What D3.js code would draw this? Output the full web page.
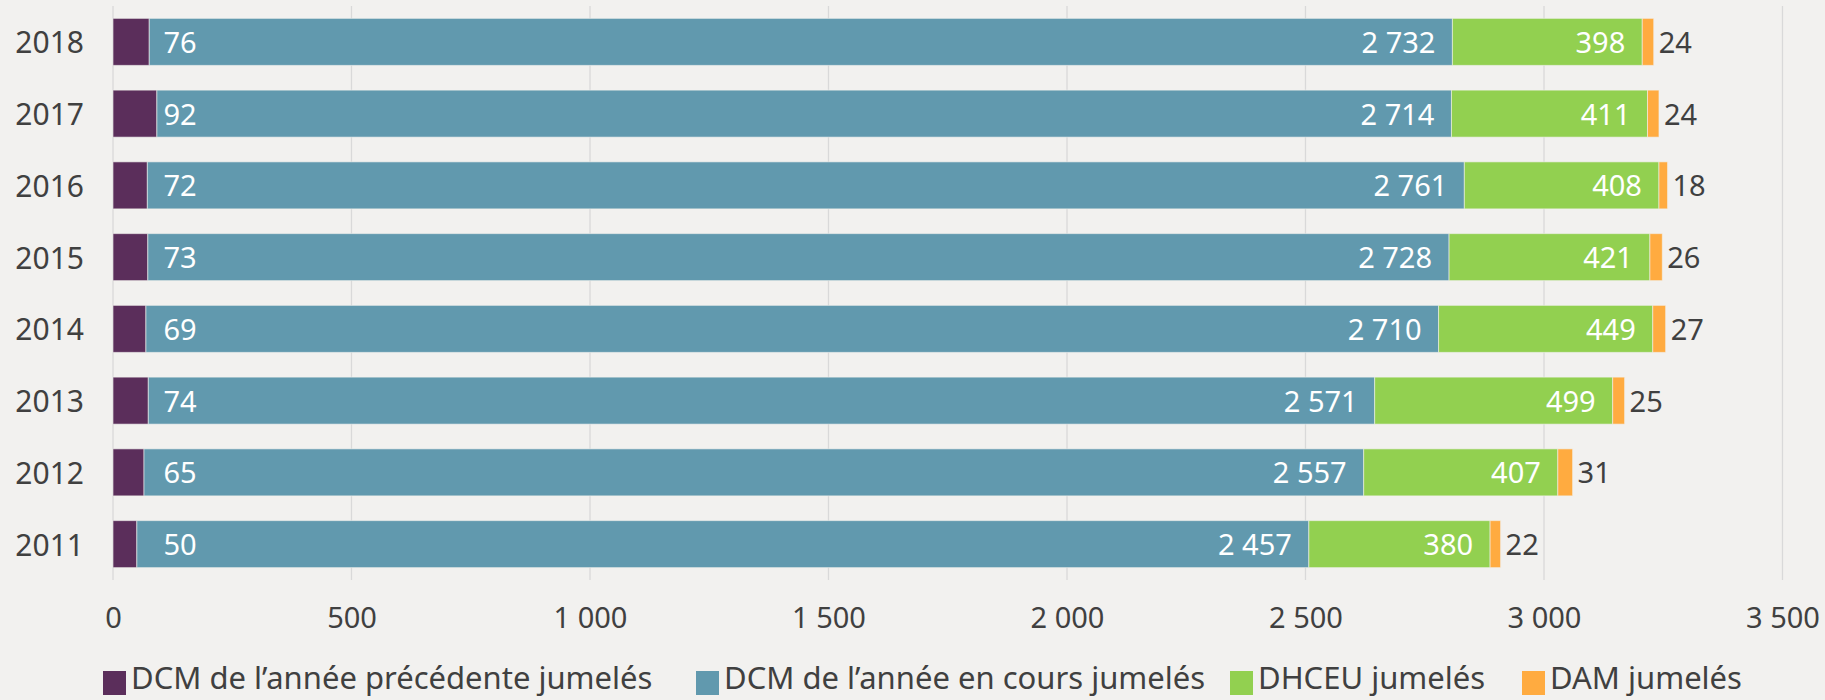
<!DOCTYPE html>
<html><head><meta charset="utf-8">
<script src="https://cdn.jsdelivr.net/npm/d3@7"></script>
<style>
html,body{margin:0;padding:0;background:#f2f1ef;}
svg{display:block;font-family:"Noto Sans",sans-serif;}
</style></head>
<body>
<svg id="chart" width="1825" height="700"></svg>
<script>
const years = ["2018","2017","2016","2015","2014","2013","2012","2011"];
const seriesNames = ["DCM de l’année précédente jumelés","DCM de l’année en cours jumelés","DHCEU jumelés","DAM jumelés"];
const dcmPrev = [76,92,72,73,69,74,65,50];
const dcmCur = [2732,2714,2761,2728,2710,2571,2557,2457];
const dhceu = [398,411,408,421,449,499,407,380];
const dam = [24,24,18,26,27,25,31,22];
const xTicks = [0,500,1000,1500,2000,2500,3000,3500];
const colors = ["#5b2e5b","#6199ae","#92d050","#ffab40"];

const W=1825,H=700;
const svg=d3.select("#chart");
svg.append("rect").attr("width",W).attr("height",H).attr("fill","#f2f1ef");

const x=d3.scaleLinear().domain([0,3500]).range([113,1782.5]);
const y=d3.scaleBand().domain(years).range([6,580]).paddingInner(0.345).paddingOuter(0.1725);
const fmt=v=>d3.format(",")(v).replace(/,/g," ");

const rows=years.map((yr,i)=>({year:yr,dcmPrev:dcmPrev[i],dcmCur:dcmCur[i],dhceu:dhceu[i],dam:dam[i]}));
const keys=["dcmPrev","dcmCur","dhceu","dam"];
const stacked=d3.stack().keys(keys)(rows);

// grid
svg.append("g").selectAll("line").data(xTicks).join("line")
 .attr("x1",d=>x(d)).attr("x2",d=>x(d)).attr("y1",6).attr("y2",580)
 .attr("stroke","#d9d9d9").attr("stroke-width",1.3);

// x axis labels
const xa=svg.append("g").attr("transform","translate(0,580)")
 .call(d3.axisBottom(x).tickValues(xTicks).tickFormat(fmt).tickSize(0).tickPadding(27));
xa.select(".domain").remove();
xa.selectAll("text").attr("font-size",29).attr("fill","#404040").attr("font-family","Noto Sans");

// y axis labels
const ya=svg.append("g").attr("transform","translate(84,2)")
 .call(d3.axisLeft(y).tickSize(0).tickPadding(0));
ya.select(".domain").remove();
ya.selectAll("text").attr("font-size",30).attr("fill","#404040").attr("font-family","Noto Sans");

// bars
stacked.forEach((s,si)=>{
 svg.append("g").selectAll("rect").data(s).join("rect")
  .attr("x",d=>x(d[0])).attr("width",d=>x(d[1])-x(d[0]))
  .attr("y",d=>y(d.data.year)).attr("height",y.bandwidth())
  .attr("fill",colors[si]).attr("stroke","#f2f1ef").attr("stroke-opacity",0.6).attr("stroke-width",1);
});

const lbl=svg.append("g").attr("font-size",29).attr("font-family","Noto Sans");
const cy=d=>y(d.data.year)+y.bandwidth()/2+11;
lbl.selectAll("text.p").data(stacked[0]).join("text").attr("class","p")
 .attr("x",d=>x(0)+67).attr("y",cy).attr("text-anchor","middle").attr("fill","#fff")
 .text(d=>fmt(d.data.dcmPrev));
lbl.selectAll("text.c").data(stacked[1]).join("text").attr("class","c")
 .attr("x",d=>x(d[1])-17).attr("y",cy).attr("text-anchor","end").attr("fill","#fff")
 .text(d=>fmt(d.data.dcmCur));
lbl.selectAll("text.h").data(stacked[2]).join("text").attr("class","h")
 .attr("x",d=>x(d[1])-17).attr("y",cy).attr("text-anchor","end").attr("fill","#fff")
 .text(d=>fmt(d.data.dhceu));
lbl.selectAll("text.a").data(stacked[3]).join("text").attr("class","a")
 .attr("x",d=>x(d[1])+5).attr("y",cy).attr("text-anchor","start").attr("fill","#404040")
 .text(d=>fmt(d.data.dam));

// legend
const lg=svg.append("g");
const sqStarts=[103,696,1230,1522];
seriesNames.forEach((n,i)=>{
 lg.append("rect").attr("x",sqStarts[i]).attr("y",671).attr("width",23).attr("height",24).attr("fill",colors[i]);
 lg.append("text").attr("x",sqStarts[i]+28).attr("y",689).attr("font-size",31).attr("fill","#404040").text(n);
});
</script>
</body></html>
